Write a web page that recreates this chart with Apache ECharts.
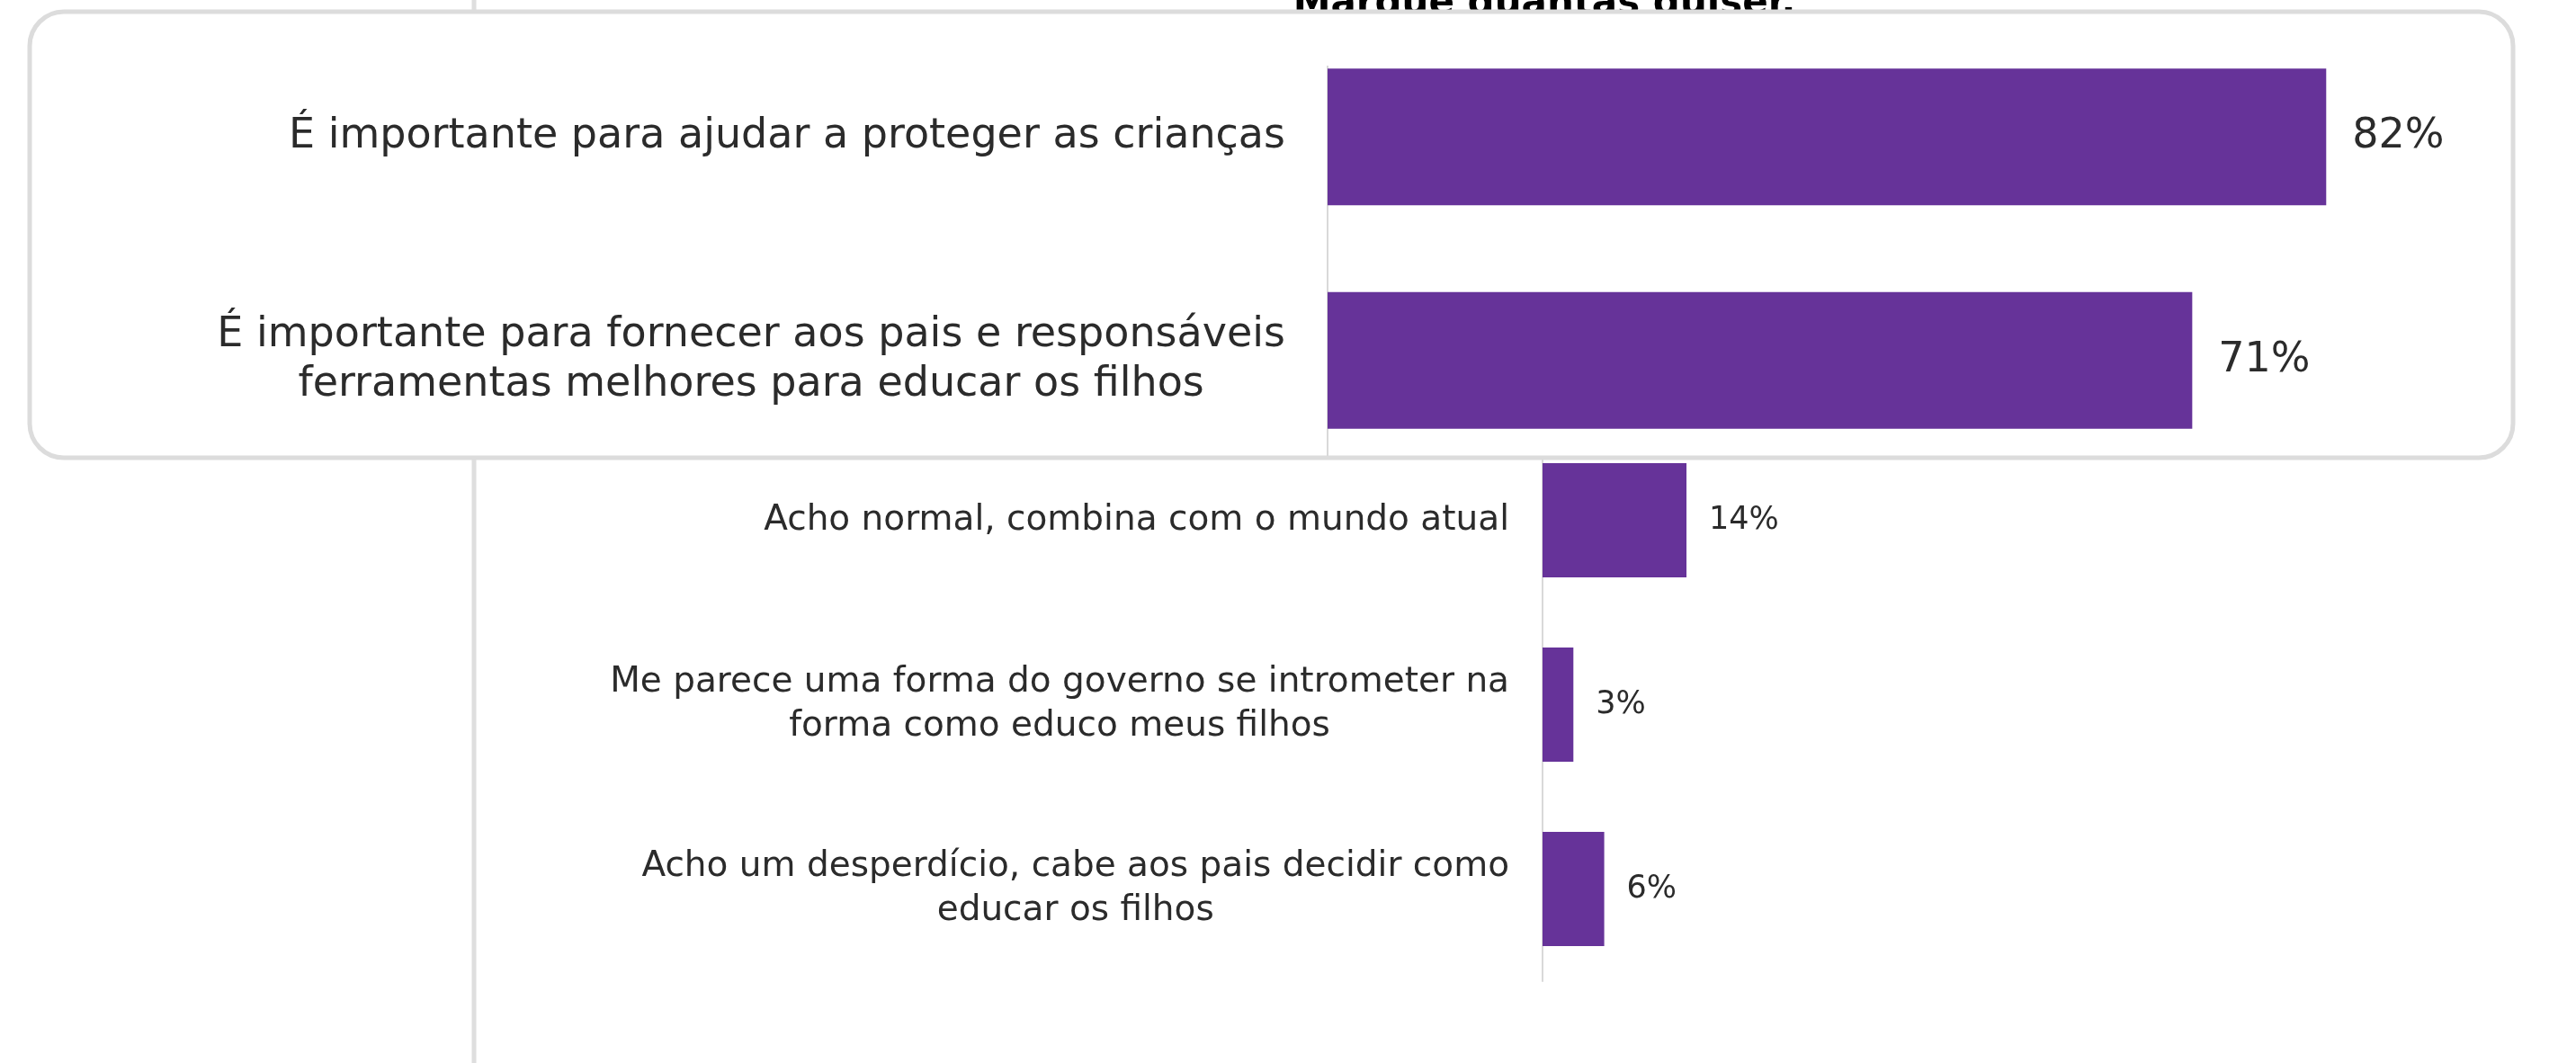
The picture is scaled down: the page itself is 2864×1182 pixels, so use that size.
<!DOCTYPE html>
<html>
<head>
<meta charset="utf-8">
<script src="https://cdn.jsdelivr.net/npm/echarts@6/dist/echarts.min.js"></script>
<style>
html,body{margin:0;padding:0;background:#fff;}
#chart{width:2864px;height:1182px;}
</style>
</head>
<body>
<div id="chart"></div>
<script>
// ---- data ----
const titleText = 'Marque quantas quiser.';
const categories = [
  'É importante para ajudar a proteger as crianças',
  'É importante para fornecer aos pais e responsáveis\nferramentas melhores para educar os filhos',
  'Acho normal, combina com o mundo atual',
  'Me parece uma forma do governo se intrometer na\nforma como educo meus filhos',
  'Acho um desperdício, cabe aos pais decidir como\neducar os filhos'
];
const values = [82, 71, 14, 3, 6];
const highlightCount = 2; // rows repeated in the enlarged callout

// ---- style ----
const FONT = 'DejaVu Sans';
const PURPLE = '#663399';
const TEXT = '#2b2b2b';

function centeredLines(v) {
  return v.split('\n').map(s => '{c|' + s + '}').join('\n');
}

const hiCats = categories.slice(0, highlightCount);
const hiVals = values.slice(0, highlightCount);

const chart = echarts.init(document.getElementById('chart'), null, {renderer: 'canvas'});
chart.setOption({
  backgroundColor: '#fff',
  animation: false,
  title: {
    text: titleText,
    left: 1712,
    textAlign: 'center',
    top: -21,
    textStyle: {fontFamily: FONT, fontWeight: 'bold', fontSize: 42, color: '#000'}
  },
  grid: [
    {left: 1715, top: 66, width: 1143, height: 1025, containLabel: false},
    {left: 1476, top: 28, width: 1354, height: 497, containLabel: false}
  ],
  xAxis: [
    {gridIndex: 0, type: 'value', min: 0, max: 100, show: false},
    {gridIndex: 1, type: 'value', min: 0, max: 100, show: false}
  ],
  yAxis: [
    {
      gridIndex: 0, type: 'category', inverse: true, data: categories,
      axisTick: {show: false},
      axisLine: {show: true, lineStyle: {color: '#d9d9d9', width: 2}},
      axisLabel: {
        margin: 37, align: 'right',
        formatter: centeredLines,
        rich: {c: {align: 'center', fontFamily: FONT, fontSize: 39, lineHeight: 49, color: TEXT}}
      }
    },
    {
      gridIndex: 1, type: 'category', inverse: true, data: hiCats, z: 60,
      axisTick: {show: false},
      axisLine: {show: false},
      axisLabel: {
        margin: 47, align: 'right',
        formatter: centeredLines,
        rich: {c: {align: 'center', fontFamily: FONT, fontSize: 46, lineHeight: 55, color: TEXT}}
      }
    }
  ],
  series: [
    {
      type: 'bar', xAxisIndex: 0, yAxisIndex: 0, data: values, barWidth: 127,
      itemStyle: {color: PURPLE},
      label: {show: true, position: 'right', distance: 25, formatter: '{c}%',
        fontFamily: FONT, fontSize: 35, color: TEXT},
      z: 2
    },
    {
      type: 'bar', xAxisIndex: 1, yAxisIndex: 1, data: hiVals, barWidth: 152,
      itemStyle: {color: PURPLE},
      label: {show: true, position: 'right', distance: 29, formatter: '{c}%',
        fontFamily: FONT, fontSize: 46, color: TEXT},
      z: 60
    }
  ],
  graphic: [
    {
      type: 'line', z: 1,
      shape: {x1: 527, y1: 0, x2: 527, y2: 1182},
      style: {stroke: '#dedede', lineWidth: 5}
    },
    {
      type: 'rect', z: 50,
      shape: {x: 33, y: 13, width: 2761, height: 496, r: 38},
      style: {fill: '#fff', stroke: '#dcdcdc', lineWidth: 5}
    },
    {
      type: 'line', z: 55,
      shape: {x1: 1476, y1: 73, x2: 1476, y2: 507},
      style: {stroke: '#d9d9d9', lineWidth: 2}
    }
  ]
});
</script>
</body>
</html>
